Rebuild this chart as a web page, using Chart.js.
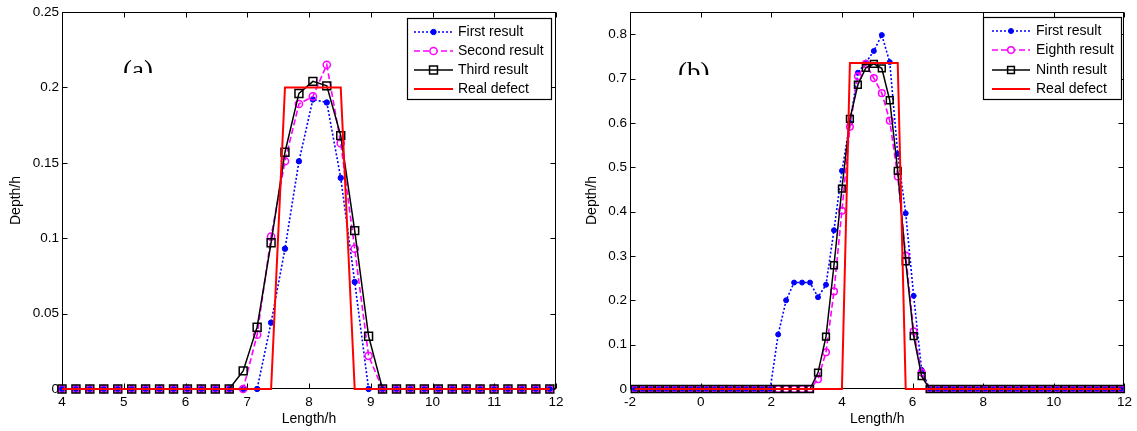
<!DOCTYPE html>
<html><head><meta charset="utf-8">
<script src="https://cdn.jsdelivr.net/npm/chart.js@4.4.1/dist/chart.umd.min.js"></script>
<style>
html,body{margin:0;padding:0;background:#fff;overflow:hidden;}
#wrap{position:relative;width:1137px;height:431px;background:#fff;}
canvas{position:absolute;top:0;}
#ca{left:0;} #cb{left:570px;}
</style></head><body>
<div id="wrap"><canvas id="ca" width="570" height="431"></canvas><canvas id="cb" width="567" height="431"></canvas></div>
<script>
// ---------- Panel (a) data ----------
const xA = [4, 4.226, 4.451, 4.677, 4.903, 5.129, 5.354, 5.58, 5.806, 6.031, 6.257, 6.483, 6.708, 6.934, 7.16, 7.386, 7.611, 7.837, 8.063, 8.288, 8.514, 8.74, 8.965, 9.191, 9.417, 9.643, 9.868, 10.094, 10.32, 10.545, 10.771, 10.997, 11.222, 11.448, 11.674, 11.9];
const firstA  = [0,0,0,0,0,0,0,0,0,0,0,0,0,0,0, 0.044,0.093,0.151,0.192,0.190,0.140,0.071, 0,0,0,0,0,0,0,0,0,0,0,0,0,0];
const secondA = [0,0,0,0,0,0,0,0,0,0,0,0,0,0, 0.036,0.101,0.151,0.189,0.194,0.215,0.163,0.093,0.022, 0,0,0,0,0,0,0,0,0,0,0,0,0];
const thirdA  = [0,0,0,0,0,0,0,0,0,0,0,0,0, 0.012,0.041,0.097,0.157,0.196,0.204,0.201,0.168,0.105,0.035, 0,0,0,0,0,0,0,0,0,0,0,0,0];
const realA   = [0,0,0,0,0,0,0,0,0,0,0,0,0,0,0,0, 0.2,0.2,0.2,0.2,0.2, 0,0,0,0,0,0,0,0,0,0,0,0,0,0,0];
const namesA = ['First result', 'Second result', 'Third result', 'Real defect'];
const xTicksA = [4, 5, 6, 7, 8, 9, 10, 11, 12];
const xTickLabelsA = ['4', '5', '6', '7', '8', '9', '10', '11', '12'];
const yTicksA = [0, 0.05, 0.1, 0.15, 0.2, 0.25];
const yTickLabelsA = ['0', '0.05', '0.1', '0.15', '0.2', '0.25'];

// ---------- Panel (b) data ----------
const xB = [-1.868, -1.642, -1.417, -1.191, -0.965, -0.74, -0.514, -0.288, -0.062, 0.163, 0.389, 0.615, 0.84, 1.066, 1.292, 1.518, 1.743, 1.969, 2.195, 2.42, 2.646, 2.872, 3.097, 3.323, 3.549, 3.775, 4.0, 4.226, 4.452, 4.677, 4.903, 5.129, 5.354, 5.58, 5.806, 6.031, 6.257, 6.483, 6.709, 6.934, 7.16, 7.386, 7.611, 7.837, 8.063, 8.289, 8.514, 8.74, 8.966, 9.191, 9.417, 9.643, 9.868, 10.094, 10.32, 10.545, 10.771, 10.997, 11.222, 11.448, 11.674, 11.899];
const firstB  = [0,0,0,0,0,0,0,0,0,0,0,0,0,0,0,0,0,0, 0.123,0.200,0.240,0.240,0.240,0.207,0.235,0.358,0.492,0.600,0.713,0.736,0.762,0.798,0.737,0.530,0.396,0.210,0.043, 0,0,0,0,0,0,0,0,0,0,0,0,0,0,0,0,0,0,0,0,0,0,0,0,0];
const eighthB = [0,0,0,0,0,0,0,0,0,0,0,0,0,0,0,0,0,0,0,0,0,0,0, 0.022,0.083,0.220,0.402,0.591,0.705,0.733,0.701,0.667,0.605,0.479,0.301,0.130,0.037, 0,0,0,0,0,0,0,0,0,0,0,0,0,0,0,0,0,0,0,0,0,0,0,0,0];
const ninthB  = [0,0,0,0,0,0,0,0,0,0,0,0,0,0,0,0,0,0,0,0,0,0,0, 0.037,0.118,0.279,0.452,0.609,0.686,0.724,0.733,0.723,0.651,0.492,0.288,0.119,0.029, 0,0,0,0,0,0,0,0,0,0,0,0,0,0,0,0,0,0,0,0,0,0,0,0,0];
const realB   = [0,0,0,0,0,0,0,0,0,0,0,0,0,0,0,0,0,0,0,0,0,0,0,0,0,0,0, 0.735,0.735,0.735,0.735,0.735,0.735,0.735, 0,0,0,0,0,0,0,0,0,0,0,0,0,0,0,0,0,0,0,0,0,0,0,0,0,0,0,0];
const namesB = ['First result', 'Eighth result', 'Ninth result', 'Real defect'];
const xTicksB = [-2, 0, 2, 4, 6, 8, 10, 12];
const xTickLabelsB = ['-2', '0', '2', '4', '6', '8', '10', '12'];
const yTicksB = [0, 0.1, 0.2, 0.3, 0.4, 0.5, 0.6, 0.7, 0.8];
const yTickLabelsB = ['0', '0.1', '0.2', '0.3', '0.4', '0.5', '0.6', '0.7', '0.8'];

// ---------- Styles ----------
const FONT = '"Liberation Sans", Arial, sans-serif';
Chart.defaults.font.family = FONT;
Chart.defaults.color = '#000';

function seriesStyles(sz) {
  return [
    {color: '#0000ff', lw: 1.6, dash: [2, 2], marker: 'circle', r: sz.dot, fill: '#0000ff', pbw: 1, order: 3},
    {color: '#ff00ff', lw: 1.6, dash: [6, 3], marker: 'circle', r: sz.circ, fill: 'rgba(0,0,0,0)', pbw: 1.5, order: 2},
    {color: '#000000', lw: 1.5, dash: [], marker: 'rect', r: sz.sq, fill: 'rgba(0,0,0,0)', pbw: 1.5, order: 1},
    {color: '#ff0000', lw: 2, dash: [], marker: false, r: 0, fill: '#ff0000', pbw: 0, order: 0}
  ];
}

const framePlugin = {
  id: 'frame',
  beforeDatasetsDraw(chart) {
    const ctx = chart.ctx, a = chart.chartArea;
    const L = Math.round(a.left) + 0.5, R = Math.round(a.right) - 0.5, T = Math.round(a.top) + 0.5, B = Math.round(a.bottom) - 0.5;
    ctx.save();
    ctx.strokeStyle = '#000'; ctx.lineWidth = 1; ctx.setLineDash([]);
    ctx.strokeRect(L, T, R - L, B - T);
    const tl = 5;
    ctx.beginPath();
    chart.scales.x.ticks.forEach(t => {
      const px = Math.round(chart.scales.x.getPixelForValue(t.value)) + 0.5;
      ctx.moveTo(px, B); ctx.lineTo(px, B - tl);
      ctx.moveTo(px, T); ctx.lineTo(px, T + tl);
    });
    chart.scales.y.ticks.forEach(t => {
      const py = Math.round(chart.scales.y.getPixelForValue(t.value)) + 0.5;
      ctx.moveTo(L, py); ctx.lineTo(L + tl, py);
      ctx.moveTo(R, py); ctx.lineTo(R - tl, py);
    });
    ctx.stroke();
    ctx.restore();
  },
  afterDraw(chart, args, o) {
    const ctx = chart.ctx, a = chart.chartArea;
    ctx.save();
    // axis titles
    ctx.fillStyle = '#000';
    ctx.font = '14px ' + FONT;
    ctx.textAlign = 'center'; ctx.textBaseline = 'middle';
    ctx.fillText('Length/h', (a.left + a.right) / 2, o.xTitleY);
    ctx.save();
    ctx.translate(o.yTitleX, (a.top + a.bottom) / 2);
    ctx.rotate(-Math.PI / 2);
    ctx.fillText('Depth/h', 0, 0);
    ctx.restore();
    // clipped panel label
    ctx.save();
    ctx.beginPath(); ctx.rect(0, 0, chart.width, o.tagClip); ctx.clip();
    ctx.font = '27px "Liberation Serif", "Times New Roman", serif';
    ctx.textAlign = 'left'; ctx.textBaseline = 'alphabetic';
    ctx.fillText(o.tag, o.tagX, o.tagBase);
    ctx.restore();
    // legend
    const lg = o.legend;
    ctx.fillStyle = '#fff';
    ctx.fillRect(lg.x0, lg.y0, lg.x1 - lg.x0, lg.y1 - lg.y0);
    ctx.strokeStyle = '#000'; ctx.lineWidth = 1.2;
    ctx.strokeRect(lg.x0 + 0.5, lg.y0 + 0.5, lg.x1 - lg.x0, lg.y1 - lg.y0);
    chart.data.datasets.forEach((d, i) => {
      const y = lg.rows[i];
      const cx = (lg.s0 + lg.s1) / 2;
      ctx.save();
      ctx.strokeStyle = d.borderColor; ctx.lineWidth = d.borderWidth;
      ctx.setLineDash(d.borderDash || []);
      ctx.beginPath(); ctx.moveTo(lg.s0, y); ctx.lineTo(lg.s1, y); ctx.stroke();
      ctx.setLineDash([]);
      if (d.pointStyle) {
        ctx.fillStyle = d.pointBackgroundColor; ctx.strokeStyle = d.pointBorderColor; ctx.lineWidth = d.pointBorderWidth;
        if (d.pointStyle === 'rect') {
          const h = d.pointRadius * Math.SQRT1_2;
          ctx.fillStyle = '#fff';
          ctx.fillRect(cx - h, y - h, 2 * h, 2 * h);
          ctx.beginPath();
          ctx.rect(cx - h, y - h, 2 * h, 2 * h);
          ctx.stroke();
          ctx.beginPath(); ctx.moveTo(cx - h, y); ctx.lineTo(cx + h, y);
          ctx.lineWidth = d.borderWidth; ctx.stroke();
        } else {
          ctx.beginPath();
          ctx.arc(cx, y, d.pointRadius, 0, Math.PI * 2);
          if (d.pointBackgroundColor !== 'rgba(0,0,0,0)') ctx.fill();
          else { ctx.fillStyle = '#fff'; ctx.fill(); }
          ctx.stroke();
        }
      }
      ctx.restore();
      ctx.fillStyle = '#000';
      ctx.font = '14px ' + FONT;
      ctx.textAlign = 'left'; ctx.textBaseline = 'middle';
      ctx.fillText(d.label, lg.t, y);
    });
    ctx.restore();
  }
};

function build(id, p) {
  const st = seriesStyles(p.sizes);
  const datasets = p.series.map((vals, i) => {
    const s = st[i];
    return {
      label: p.names[i],
      data: p.xs.map((x, k) => ({x: x, y: vals[k]})),
      borderColor: s.color, backgroundColor: s.color,
      borderWidth: s.lw, borderDash: s.dash,
      pointStyle: s.marker, pointRadius: s.r, pointHoverRadius: s.r,
      pointBackgroundColor: s.fill, pointBorderColor: s.color, pointBorderWidth: s.pbw,
      order: s.order, clip: false, tension: 0, fill: false
    };
  });
  const tickFont = {family: FONT, size: 13.5};
  return new Chart(document.getElementById(id), {
    type: 'line',
    data: {datasets: datasets},
    options: {
      responsive: false, animation: false, devicePixelRatio: 1,
      layout: {padding: {left: 0, top: p.plotTop, right: p.padRight, bottom: 0}},
      plugins: {legend: {display: false}, tooltip: {enabled: false}, frame: p.frame},
      scales: {
        x: {
          type: 'linear', min: p.xMin, max: p.xMax,
          afterBuildTicks: s => { s.ticks = p.xTicks.map(v => ({value: v})); },
          afterFit: s => { s.height = p.xAxisH; },
          grid: {display: false, drawTicks: false}, border: {display: false},
          ticks: {padding: 5, color: '#000', font: tickFont, autoSkip: false, maxRotation: 0,
                  callback: (v, i) => p.xTickLabels[i]}
        },
        y: {
          type: 'linear', min: 0, max: p.yMax,
          afterBuildTicks: s => { s.ticks = p.yTicks.map(v => ({value: v})); },
          afterFit: s => { s.width = p.yAxisW; },
          grid: {display: false, drawTicks: false}, border: {display: false},
          ticks: {padding: 3, color: '#000', font: tickFont, autoSkip: false,
                  callback: (v, i) => p.yTickLabels[i]}
        }
      }
    },
    plugins: [framePlugin]
  });
}

build('ca', {
  xs: xA, series: [firstA, secondA, thirdA, realA], names: namesA,
  sizes: {dot: 2.7, circ: 3.6, sq: 5.6},
  xMin: 4, xMax: 12, yMax: 0.25,
  xTicks: xTicksA, xTickLabels: xTickLabelsA, yTicks: yTicksA, yTickLabels: yTickLabelsA,
  plotTop: 12, padRight: 14, xAxisH: 42, yAxisW: 62,
  frame: {xTitleY: 419, yTitleX: 16, tag: '(a)', tagX: 123, tagBase: 79, tagClip: 73,
    legend: {x0: 407, y0: 18, x1: 551, y1: 99, rows: [32, 51, 70, 89], s0: 414, s1: 453, t: 458}}
});
build('cb', {
  xs: xB, series: [firstB, eighthB, ninthB, realB], names: namesB,
  sizes: {dot: 2.5, circ: 3.3, sq: 4.8},
  xMin: -2, xMax: 12, yMax: 0.85,
  xTicks: xTicksB, xTickLabels: xTickLabelsB, yTicks: yTicksB, yTickLabels: yTickLabelsB,
  plotTop: 12, padRight: 11, xAxisH: 42, yAxisW: 60,
  frame: {xTitleY: 419, yTitleX: 22, tag: '(b)', tagX: 108, tagBase: 81, tagClip: 75,
    legend: {x0: 413, y0: 17, x1: 551, y1: 99, rows: [31, 50, 70, 89], s0: 422, s1: 460, t: 466}}
});
</script>
</body></html>
